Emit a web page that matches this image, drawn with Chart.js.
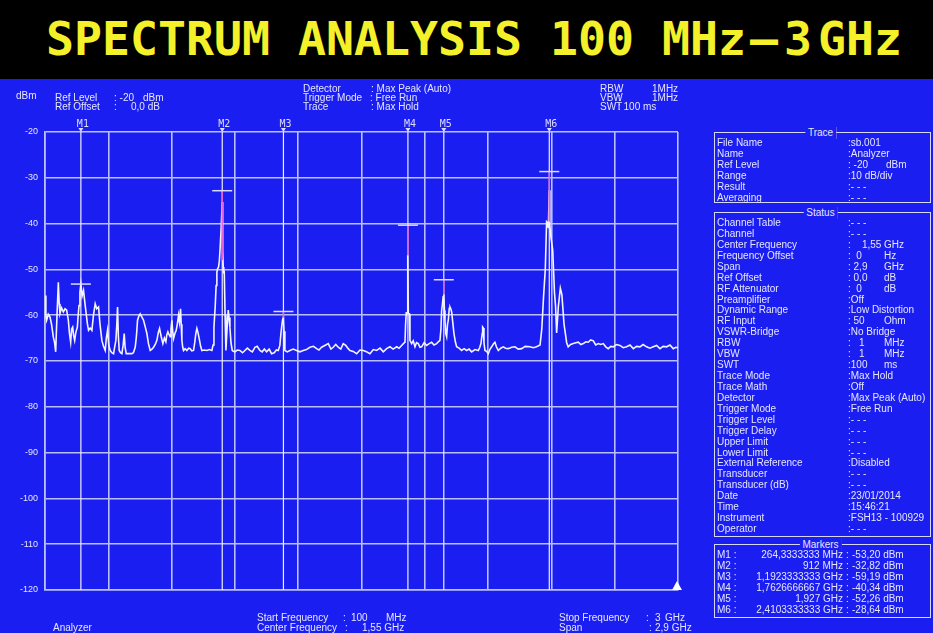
<!DOCTYPE html>
<html>
<head>
<meta charset="utf-8">
<script src="https://cdn.jsdelivr.net/npm/chart.js@4.4.1/dist/chart.umd.min.js"></script>
<style>
  html, body { margin: 0; padding: 0; background: #000; }
  #page { position: relative; width: 933px; height: 633px; overflow: hidden; background: #000; }
  #title { position: absolute; left: 0; top: 0; width: 933px; height: 79px; background: #000; }
  #title span { position: absolute; top: 16px; font: bold 46.5px/46.5px "DejaVu Sans Mono", monospace; color: #f4f02a; white-space: pre; }
  #screen { position: absolute; left: 0; top: 79px; width: 933px; height: 554px; background: #1a1ef0; }
  #spec { position: absolute; left: 0; top: 0; }
  #texts { position: absolute; left: 0; top: 0; width: 933px; height: 633px; }
  .t { position: absolute; font: 10px/12px "Liberation Sans", Arial, sans-serif; color: #e6e6ff; white-space: pre; }
  .box { position: absolute; border: 1.5px solid #d6d8ff; box-sizing: border-box; }
  .cap { position: absolute; font: 10px/12px "Liberation Sans", Arial, sans-serif; color: #e6e6ff; background: #1a1ef0; padding: 0 3px; transform: translateX(-50%); }
</style>
</head>
<body>
<div id="page">
  <div id="title"><span style="left:46px">SPECTRUM ANALYSIS 100 MHz</span><span style="left:744px; word-spacing:-22px"> – 3 GHz</span></div>
  <div id="screen"></div>
  <canvas id="spec" width="933" height="633"></canvas>
  <div id="texts"></div>
</div>
<script>
// sweep: 100 MHz .. 3 GHz, ref level -20 dBm, 10 dB/div
const gridMHz = [100, 390, 680, 970, 1260, 1550, 1840, 2130, 2420, 2710, 3000];

const markerNames = ['M1', 'M2', 'M3', 'M4', 'M5', 'M6'];
const markerMHz = [264.3333333, 912, 1192.3333333, 1762.6666667, 1927, 2410.3333333];
const markerDbm = [-53.20, -32.82, -59.19, -40.34, -52.26, -28.64];
// lower end of the max-hold (magenta) part of each peak
const peakHoldFromDbm = [null, -48.0, -60.5, -46.9, -55.5, -39.6];

// measured trace [MHz, dBm]
const trace = [
  [100, -55.7], [104, -60.0], [107.6, -61.1], [115, -59.8], [122.9, -60.4], [130, -62.0],
  [138.2, -64.8], [144, -66.0], [148.9, -68.0], [155, -60.0], [161.1, -52.8], [165, -57.5],
  [168.7, -59.6], [176, -58.4], [184, -59.3], [192, -58.6], [199.3, -58.9], [206.9, -61.1],
  [212, -64.0], [217.6, -65.9], [222, -63.0], [226.8, -62.6], [231, -64.4], [235.9, -65.5],
  [241, -63.8], [248.2, -62.6], [252, -60.0], [255.8, -57.9], [260, -55.0], [264.3, -53.2],
  [270, -55.8], [276.5, -54.6], [282, -57.0], [288.8, -59.7], [294, -61.8], [299.5, -63.3],
  [307, -62.8], [314.8, -63.3], [322, -60.0], [330, -57.5], [337, -58.6], [345.3, -58.2],
  [352, -62.0], [360.6, -65.5], [368, -66.8], [375.8, -67.7], [381, -65.0], [386.5, -63.3],
  [392, -66.5], [398.8, -67.7], [406, -68.2], [414, -68.4], [419, -67.0], [424.7, -65.5],
  [429, -62.0], [432.4, -58.2], [436, -64.5], [440, -67.7], [446, -68.2], [452.2, -68.4],
  [458, -66.6], [462.9, -64.0], [467, -67.0], [472.1, -68.4], [485, -68.4], [498, -68.4],
  [505, -68.2], [513.3, -67.0], [519, -64.5], [524, -61.1], [530, -60.2], [536.2, -59.7],
  [544, -60.4], [551.5, -61.1], [559, -62.5], [566.8, -64.0], [574, -66.2], [582, -67.7],
  [590, -67.4], [597.3, -67.0], [605, -66.4], [612.6, -65.5], [619, -63.8], [624.8, -62.9],
  [632, -64.6], [640, -66.2], [647, -65.0], [653.8, -65.8], [658, -64.3], [663, -63.6],
  [668, -64.2], [673.6, -64.7], [677, -63.0], [681.3, -61.1], [685, -63.5], [689, -65.1],
  [695, -64.0], [701.1, -63.3], [706, -62.0], [711.8, -60.0], [716, -61.5], [721, -58.6],
  [724, -62.0], [727.1, -65.5], [731, -67.0], [734.7, -67.7], [742, -67.3], [750, -67.7],
  [758, -67.2], [765.3, -67.3], [772, -67.8], [780.5, -67.7], [786, -66.0], [791, -64.0],
  [795.8, -62.9], [801, -63.8], [808, -65.5], [813, -66.8], [818.7, -67.7], [830, -67.6],
  [841.6, -67.7], [853, -67.5], [864.5, -67.7], [870, -66.5], [874, -62.6], [879.7, -58.2],
  [884, -53.5], [887.4, -50.6], [891, -49.8], [895, -49.5], [899, -48.0], [902.6, -45.1],
  [907.2, -40.8], [912, -35.3], [914, -46.0], [916.6, -49.5], [919, -50.9], [921.2, -50.3],
  [925, -60.0], [928.8, -67.7], [934, -63.0], [939.5, -58.9], [943, -60.5], [947.2, -62.6],
  [952, -66.0], [957.8, -67.7], [963, -67.9], [970, -68.0], [981, -67.6], [993, -67.7],
  [1005, -68.2], [1015.9, -67.7], [1027, -67.2], [1038.8, -67.7], [1050, -68.0], [1061.7, -67.0],
  [1072, -66.8], [1084.6, -67.7], [1095, -68.0], [1105, -67.4], [1115.1, -68.0], [1127, -67.4],
  [1138, -68.4], [1150, -68.2], [1160, -67.6], [1168.6, -67.7], [1176, -66.6], [1180.8, -64.0],
  [1185, -62.2], [1188.4, -61.0], [1192.3, -60.5], [1195, -63.5], [1199.1, -67.7], [1210, -68.0],
  [1222, -67.7], [1237, -67.4], [1252.6, -67.7], [1268, -68.0], [1283.1, -67.7], [1298, -67.5],
  [1313.7, -67.0], [1330, -66.8], [1344.2, -67.3], [1355, -67.6], [1367.1, -67.0], [1382, -66.6],
  [1397.6, -66.2], [1410, -67.4], [1420.5, -67.0], [1432, -66.4], [1443.4, -67.0], [1455, -67.4],
  [1466.3, -66.2], [1478, -66.6], [1489.2, -67.3], [1497.2, -67.7], [1512, -67.9], [1527.7, -68.4],
  [1543, -67.6], [1558.3, -67.7], [1573, -68.0], [1588.8, -68.4], [1604, -67.5], [1619.4, -67.7],
  [1635, -67.2], [1649.9, -68.0], [1665, -67.3], [1680.4, -66.9], [1695, -67.4], [1711, -66.9],
  [1722, -67.2], [1733.9, -66.6], [1742, -66.2], [1749.2, -65.9], [1752, -62.0], [1755, -59.5],
  [1759, -59.5], [1761, -48.0], [1762.7, -46.9], [1764.5, -59.5], [1769, -59.7], [1772, -65.5],
  [1779.7, -66.2], [1787, -65.6], [1795, -66.9], [1802, -66.0], [1810.2, -66.2], [1818, -67.0],
  [1825.5, -66.9], [1837, -66.0], [1848.4, -66.6], [1860, -66.2], [1871.3, -65.9], [1882, -66.5],
  [1894.2, -66.2], [1902, -65.8], [1909.5, -65.5], [1914, -63.0], [1917.1, -59.0], [1921, -57.5],
  [1924, -56.0], [1927, -55.3], [1930, -59.0], [1932.4, -61.1], [1936, -64.0], [1940.1, -64.7],
  [1944, -62.0], [1947.7, -61.1], [1952, -58.5], [1955.3, -58.2], [1959, -58.6], [1963, -59.3],
  [1968, -61.5], [1973.6, -64.0], [1980, -65.8], [1985.8, -66.9], [1997, -67.2], [2008.7, -67.7],
  [2020, -67.3], [2031.6, -67.7], [2043, -67.4], [2054.6, -68.0], [2070, -67.5], [2085.1, -67.7],
  [2092, -67.0], [2097.3, -66.2], [2103, -64.0], [2105, -62.6], [2108, -62.8], [2111, -66.0],
  [2115.6, -67.7], [2123, -67.9], [2130.9, -68.4], [2138, -67.5], [2146.2, -66.9], [2154, -66.3],
  [2161.4, -65.9], [2168, -66.9], [2176.7, -67.7], [2188, -67.2], [2199.6, -66.9], [2210, -67.2],
  [2222.5, -67.3], [2238, -67.0], [2253, -66.9], [2268, -67.4], [2283.6, -67.3], [2300, -66.8],
  [2321.8, -66.9], [2337, -67.1], [2352, -66.9], [2368, -66.5], [2376, -63.0], [2384, -56.0],
  [2392, -50.0], [2398, -39.6], [2402, -39.8], [2406, -41.0], [2410.3, -32.7], [2413, -40.5],
  [2418, -43.0], [2426, -45.8], [2434, -55.0], [2439, -58.0], [2444, -63.9], [2452, -58.0],
  [2461, -54.1], [2468, -55.5], [2478, -62.0], [2490, -66.0], [2497, -66.9], [2508, -66.4],
  [2520.3, -66.2], [2532, -66.0], [2543.2, -65.9], [2555, -66.4], [2566.1, -66.2], [2578, -65.8],
  [2589, -65.9], [2600, -65.4], [2612, -65.6], [2623, -66.5], [2634.8, -66.2], [2646, -66.4],
  [2657.7, -66.2], [2669, -66.9], [2680.6, -67.3], [2692, -66.8], [2703.5, -66.9], [2718, -66.4],
  [2734, -66.6], [2749, -67.1], [2764.6, -66.9], [2780, -66.5], [2795.2, -67.3], [2810, -66.8],
  [2825.7, -66.9], [2840, -66.4], [2856.2, -66.9], [2871, -67.2], [2886.8, -66.9], [2902, -66.6],
  [2917.3, -67.3], [2932, -66.8], [2947.9, -66.9], [2963, -66.5], [2978.4, -67.3], [2990, -67.0],
  [3000, -67.1]
];

const GRID = '#b9bfff';
const INK = '#e6e6ff';

// vertical segments for the max-hold tops, split by nulls
const peakHold = [];
markerMHz.forEach((f, i) => {
  if (peakHoldFromDbm[i] === null) return;
  peakHold.push({ x: f, y: peakHoldFromDbm[i] }, { x: f, y: markerDbm[i] }, { x: f, y: null });
});

// marker lines, level ticks, marker names
const markerPlugin = {
  id: 'markers',
  beforeDatasetsDraw(chart) {
    const { ctx, chartArea: a, scales: { x } } = chart;
    ctx.save();
    ctx.strokeStyle = '#eeeeff';
    ctx.lineWidth = 1.2;
    markerMHz.forEach(f => {
      const px = x.getPixelForValue(f);
      ctx.beginPath();
      ctx.moveTo(px, a.top);
      ctx.lineTo(px, a.bottom);
      ctx.stroke();
    });
    ctx.restore();
  },
  afterDatasetsDraw(chart) {
    const { ctx, chartArea: a, scales: { x, y } } = chart;
    ctx.save();
    ctx.strokeStyle = '#dcdcff';
    ctx.fillStyle = '#dcdcff';
    ctx.lineWidth = 1.5;
    ctx.font = '10px "DejaVu Sans Mono", monospace';
    ctx.textBaseline = 'alphabetic';
    markerMHz.forEach((f, i) => {
      const px = x.getPixelForValue(f);
      const py = y.getPixelForValue(markerDbm[i]);
      ctx.beginPath();
      ctx.moveTo(px - 10, py);
      ctx.lineTo(px + 10, py);
      ctx.stroke();
      ctx.fillText(markerNames[i], px - 4, a.top - 5);
      ctx.beginPath();
      ctx.moveTo(px - 2.5, a.top - 4);
      ctx.lineTo(px + 2.5, a.top - 4);
      ctx.lineTo(px, a.top);
      ctx.closePath();
      ctx.fill();
    });
    // reference marker on the bottom right
    const rx = a.right - 1;
    ctx.fillStyle = '#ffffff';
    ctx.beginPath();
    ctx.moveTo(rx - 5, a.bottom);
    ctx.lineTo(rx + 5, a.bottom);
    ctx.lineTo(rx, a.bottom - 9);
    ctx.closePath();
    ctx.fill();
    ctx.restore();
  }
};

new Chart(document.getElementById('spec'), {
  type: 'line',
  data: {
    datasets: [
      {
        data: trace.map(([f, v]) => ({ x: f, y: v })),
        borderColor: '#f4f4ff',
        borderWidth: 1.6,
        pointRadius: 0,
        tension: 0,
        order: 2
      },
      {
        data: peakHold,
        borderColor: 'rgba(228, 92, 214, 0.95)',
        borderWidth: 1.6,
        pointRadius: 0,
        spanGaps: false,
        order: 1
      }
    ]
  },
  options: {
    responsive: false,
    animation: false,
    events: [],
    layout: { padding: { left: 0, top: 132, right: 255, bottom: 43 } },
    plugins: { legend: { display: false }, tooltip: { enabled: false } },
    scales: {
      x: {
        type: 'linear',
        min: 100,
        max: 3000,
        afterBuildTicks: s => { s.ticks = gridMHz.map(v => ({ value: v })); },
        afterFit: s => { s.height = 0; },
        ticks: { display: false },
        grid: { color: GRID, lineWidth: 1.6, drawTicks: false },
        border: { color: GRID, width: 1.6 }
      },
      y: {
        min: -120,
        max: -20,
        afterFit: s => { s.width = 45; },
        ticks: { stepSize: 10, color: INK, padding: 7, font: { family: '"Liberation Sans", Arial', size: 9 } },
        grid: { color: GRID, lineWidth: 1.6, drawTicks: false },
        border: { color: GRID, width: 1.6 }
      }
    }
  },
  plugins: [markerPlugin]
});

// text around the screen
const layer = document.getElementById('texts');
function put(str, x, y, right) {
  const el = document.createElement('div');
  el.className = 't';
  el.textContent = str;
  el.style.top = (y - 6) + 'px';
  if (right) el.style.right = (933 - x) + 'px';
  else el.style.left = x + 'px';
  layer.appendChild(el);
}
function box(x0, y0, x1, y1, caption) {
  const b = document.createElement('div');
  b.className = 'box';
  Object.assign(b.style, { left: x0 + 'px', top: y0 + 'px', width: (x1 - x0) + 'px', height: (y1 - y0) + 'px' });
  layer.appendChild(b);
  const c = document.createElement('div');
  c.className = 'cap';
  c.textContent = caption;
  Object.assign(c.style, { left: ((x0 + x1) / 2 - 2) + 'px', top: (y0 - 5) + 'px' });
  layer.appendChild(c);
}

put('dBm', 16, 96);
put('Ref Level', 55, 98); put(': -20', 114, 98); put('dBm', 143, 98);
put('Ref Offset', 55, 107); put(':', 114, 107); put('0,0 dB', 131, 107);
put('Detector', 303, 89); put(': Max Peak (Auto)', 371, 89);
put('Trigger Mode', 303, 98); put(': Free Run', 370, 98);
put('Trace', 303, 107); put(': Max Hold', 371, 107);
put('RBW', 600, 89); put(':', 618, 89); put('1MHz', 652, 89);
put('VBW', 600, 98); put(':', 618, 98); put('1MHz', 652, 98);
put('SWT', 600, 107); put(': 100 ms', 618, 107);

put('Analyzer', 53, 628);
put('Start Frequency', 257, 618); put(':', 343, 618); put('100', 351, 618); put('MHz', 386, 618);
put('Center Frequency', 257, 628); put(':', 345, 628); put('1,55 GHz', 362, 628);
put('Stop Frequency', 559, 618); put(':', 646, 618); put('3', 655, 618); put('GHz', 665, 618);
put('Span', 559, 628); put(':', 649, 628); put('2,9 GHz', 655, 628);

const traceRows = [
  ['File Name', ':sb.001'],
  ['Name', ':Analyzer'],
  ['Ref Level', ': -20', 'dBm'],
  ['Range', ':10 dB/div'],
  ['Result', ':- - -'],
  ['Averaging', ':- - -']
];
const statusRows = [
  ['Channel Table', ':- - -'],
  ['Channel', ':- - -'],
  ['Center Frequency', ':    1,55', 'GHz'],
  ['Frequency Offset', ':  0', 'Hz'],
  ['Span', ': 2,9', 'GHz'],
  ['Ref Offset', ': 0,0', 'dB'],
  ['RF Attenuator', ':  0', 'dB'],
  ['Preamplifier', ':Off'],
  ['Dynamic Range', ':Low Distortion'],
  ['RF Input', ': 50', 'Ohm'],
  ['VSWR-Bridge', ':No Bridge'],
  ['RBW', ':   1', 'MHz'],
  ['VBW', ':   1', 'MHz'],
  ['SWT', ':100', 'ms'],
  ['Trace Mode', ':Max Hold'],
  ['Trace Math', ':Off'],
  ['Detector', ':Max Peak (Auto)'],
  ['Trigger Mode', ':Free Run'],
  ['Trigger Level', ':- - -'],
  ['Trigger Delay', ':- - -'],
  ['Upper Limit', ':- - -'],
  ['Lower Limit', ':- - -'],
  ['External Reference', ':Disabled'],
  ['Transducer', ':- - -'],
  ['Transducer (dB)', ':- - -'],
  ['Date', ':23/01/2014'],
  ['Time', ':15:46:21'],
  ['Instrument', ':FSH13 - 100929'],
  ['Operator', ':- - -']
];

box(714, 132, 931, 203, 'Trace');
traceRows.forEach(([k, v, u], i) => {
  const y = 143 + i * 11;
  put(k, 717, y); put(v, 848, y);
  if (u) put(u, 886, y);
});
box(714, 212, 931, 537, 'Status');
statusRows.forEach(([k, v, u], i) => {
  const y = 223 + i * 10.93;
  put(k, 717, y); put(v, 848, y);
  if (u) put(u, 884, y);
});

function trimZeros(s) { return s.replace(/\.?0+$/, ''); }
function fmtFreq(mhz) {
  const s = mhz < 1000 ? trimZeros(mhz.toFixed(7)) + ' MHz' : trimZeros((mhz / 1000).toFixed(10)) + ' GHz';
  return s.replace('.', ',');
}
box(714, 544, 931, 618, 'Markers');
markerNames.forEach((m, i) => {
  const y = 555 + i * 11;
  put(m + ' :', 717, y);
  put(fmtFreq(markerMHz[i]), 843, y, true);
  put(':', 846, y);
  put(markerDbm[i].toFixed(2).replace('.', ',') + ' dBm', 852, y);
});
</script>
</body>
</html>
